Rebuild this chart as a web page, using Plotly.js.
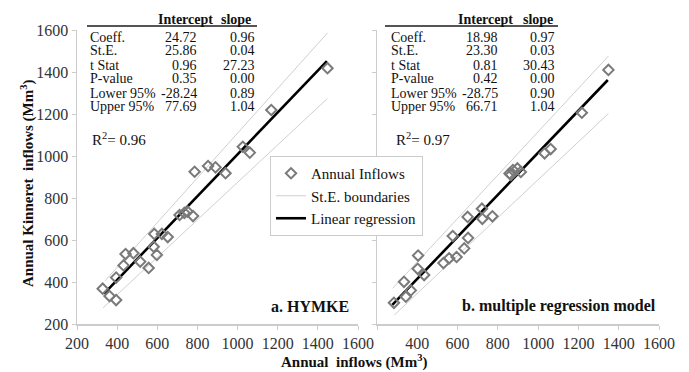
<!DOCTYPE html>
<html>
<head>
<meta charset="utf-8">
<script src="https://cdn.plot.ly/plotly-3.0.1.min.js"></script>
<style>html,body{margin:0;padding:0;background:#fff;}#chart{width:689px;height:372px;}</style>
</head>
<body>
<div id="chart"></div>
<script>
// ---- Data ----
const leftInflowX = [328, 362, 395, 395, 432, 442, 481, 515, 557, 582, 598, 585, 623, 652, 711, 735, 751, 778, 786, 853, 890, 940, 1026, 1061, 1168, 1448];
const leftInflowY = [368, 333, 314, 421, 479, 533, 537, 497, 467, 568, 529, 629, 629, 614, 719, 729, 735, 714, 925, 952, 946, 918, 1044, 1016, 1219, 1418];
const rightInflowX = [284, 334, 343, 368, 402, 404, 434, 530, 558, 576, 595, 633, 652, 650, 721, 723, 773, 858, 875, 897, 914, 865, 1032, 1062, 1217, 1349];
const rightInflowY = [301, 401, 330, 360, 463, 526, 433, 490, 513, 619, 519, 560, 610, 710, 749, 701, 713, 917, 933, 941, 924, 910, 1013, 1033, 1206, 1410];

const leftRegX = [335, 1445], leftRegY = [345, 1452];
const leftUpperX = [340, 1448], leftUpperY = [406, 1586];
const leftLowerX = [330, 1448], leftLowerY = [277, 1274];
const rightRegX = [276, 1346], rightRegY = [291, 1362];
const rightUpperX = [278, 1349], rightUpperY = [370, 1476];
const rightLowerX = [286, 1349], rightLowerY = [243, 1202];

const tableRows = ["Coeff.", "St.E.", "t Stat", "P-value", "Lower 95%", "Upper 95%"];
const leftIntercept = ["24.72", "25.86", "0.96", "0.35", "-28.24", "77.69"];
const leftSlope = ["0.96", "0.04", "27.23", "0.00", "0.89", "1.04"];
const rightIntercept = ["18.98", "23.30", "0.81", "0.42", "-28.75", "66.71"];
const rightSlope = ["0.97", "0.03", "30.43", "0.00", "0.90", "1.04"];
const tableHeader = ["Intercept", "slope"];
const leftR2 = "R<sup>2</sup>= 0.96", rightR2 = "R<sup>2</sup>= 0.97";
const panelLabels = ["a. HYMKE", "b. multiple regression model"];
const axisTickVals = [200, 400, 600, 800, 1000, 1200, 1400, 1600];
const rightXTickText = ["", "400", "600", "800", "1000", "1200", "1400", "1600"];

// ---- Geometry helpers (pixels -> paper) ----
const W = 689, H = 372, ML = 77, MR = 30, MT = 30, MB = 48;
const PW = W - ML - MR, PH = H - MT - MB;
const px = x => (x - ML) / PW;
const py = y => (H - MB - y) / PH;
const FONT = 'Liberation Serif';

const markerStyle = {symbol: 'diamond-open', size: 8, color: '#7a7a7a', line: {width: 2, color: '#7a7a7a'}};
const seStyle = {color: '#cfcfcf', width: 1};
const regStyle = {color: '#000000', width: 2.6};

const traces = [];
function addPanel(xa, ya, ix, iy, ux, uy, lx, ly, rx, ry, show) {
  traces.push({x: ux, y: uy, xaxis: xa, yaxis: ya, mode: 'lines', line: seStyle, name: 'St.E. boundaries', legendgroup: 'se', showlegend: show, legendrank: 2, hoverinfo: 'skip'});
  traces.push({x: lx, y: ly, xaxis: xa, yaxis: ya, mode: 'lines', line: seStyle, name: 'St.E. boundaries', legendgroup: 'se', showlegend: false, hoverinfo: 'skip'});
  traces.push({x: rx, y: ry, xaxis: xa, yaxis: ya, mode: 'lines', line: regStyle, name: 'Linear regression', legendgroup: 'reg', showlegend: show, legendrank: 3});
  traces.push({x: ix, y: iy, xaxis: xa, yaxis: ya, mode: 'markers', marker: markerStyle, name: 'Annual Inflows', legendgroup: 'pts', showlegend: show, legendrank: 1});
}
addPanel('x', 'y', leftInflowX, leftInflowY, leftUpperX, leftUpperY, leftLowerX, leftLowerY, leftRegX, leftRegY, true);
addPanel('x2', 'y2', rightInflowX, rightInflowY, rightUpperX, rightUpperY, rightLowerX, rightLowerY, rightRegX, rightRegY, false);

const annotations = [];
const shapes = [];
function ann(x, y, text, anchor, size, extra) {
  annotations.push(Object.assign({xref: 'paper', yref: 'paper', x: px(x), y: py(y), xanchor: anchor, yanchor: 'middle', text: text, showarrow: false, font: {family: FONT, size: size, color: '#111'}}, extra || {}));
}
function addTable(labelX, intRight, slopeRight, intCenter, slopeCenter, lineL, lineR, ints, slopes, r2, r2x) {
  const rowY = [37, 51, 65, 79, 93, 107];
  tableRows.forEach((r, i) => {
    ann(labelX, rowY[i], r, 'left', 14);
    ann(intRight, rowY[i], ints[i], 'right', 14);
    ann(slopeRight, rowY[i], slopes[i], 'right', 14);
  });
  ann(intCenter, 20, '<b>' + tableHeader[0] + '</b>', 'center', 14);
  ann(slopeCenter, 20, '<b>' + tableHeader[1] + '</b>', 'center', 14);
  shapes.push({type: 'line', xref: 'paper', yref: 'paper', x0: px(lineL), x1: px(lineR), y0: py(26), y1: py(26), line: {color: '#555', width: 2}});
  ann(r2x, 139, r2, 'left', 15);
}
addTable(88, 199, 257, 185, 236, 87, 257, leftIntercept, leftSlope, leftR2, 90);
addTable(389, 500, 557, 486, 538, 385, 558, rightIntercept, rightSlope, rightR2, 394);

ann(351, 306, '<b>' + panelLabels[0] + '</b>', 'right', 16);
ann(658, 306, '<b>' + panelLabels[1] + '</b>', 'right', 16);
ann(354, 361, '<b>Annual  inflows (Mm<sup>3</sup>)</b>', 'center', 15);
ann(27, 184, '<b>Annual Kinneret  inflows (Mm<sup>3</sup>)</b>', 'center', 15, {textangle: -90});

const axisCommon = {range: [200, 1600], showgrid: false, zeroline: false, showline: true, linecolor: '#cccccc', linewidth: 1.5, ticks: 'outside', ticklen: 4, tickcolor: '#cccccc', tickvals: axisTickVals, tickfont: {family: FONT, size: 16, color: '#333'}, fixedrange: true};

const layout = {
  width: W, height: H,
  margin: {l: ML, r: MR, t: MT, b: MB, pad: 0},
  paper_bgcolor: '#fff', plot_bgcolor: 'rgba(0,0,0,0)',
  font: {family: FONT, color: '#111'},
  showlegend: true,
  legend: {x: px(270), y: py(156), xanchor: 'left', yanchor: 'top', bgcolor: '#fff', bordercolor: '#cccccc', borderwidth: 1, font: {family: FONT, size: 15, color: '#111'}, tracegroupgap: 0, traceorder: 'normal'},
  xaxis: Object.assign({}, axisCommon, {domain: [0, px(358)], anchor: 'y', ticktext: axisTickVals.map(String)}),
  yaxis: Object.assign({}, axisCommon, {domain: [0, 1], anchor: 'x'}),
  xaxis2: Object.assign({}, axisCommon, {domain: [px(377), 1], anchor: 'y2', ticktext: rightXTickText}),
  yaxis2: Object.assign({}, axisCommon, {domain: [0, 1], anchor: 'x2', showticklabels: false}),
  annotations: annotations,
  shapes: shapes
};

Plotly.newPlot('chart', traces, layout, {staticPlot: true, displayModeBar: false});
</script>
</body>
</html>
